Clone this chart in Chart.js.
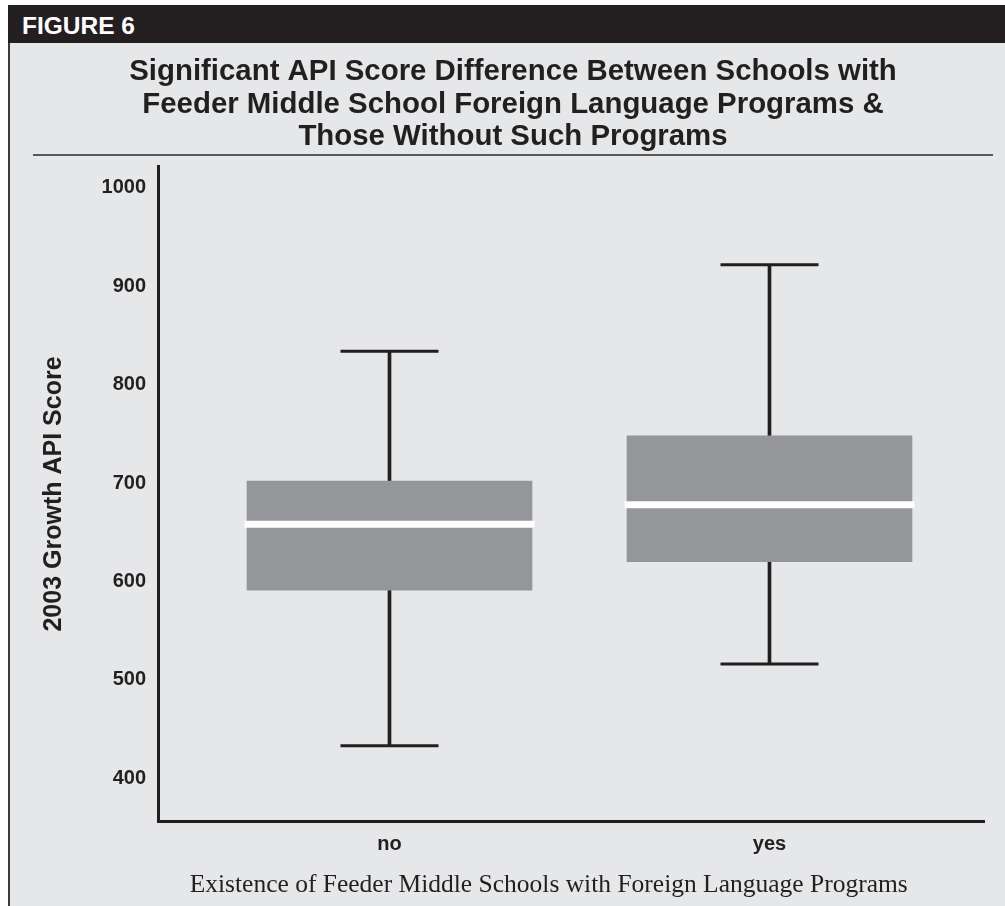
<!DOCTYPE html>
<html>
<head>
<meta charset="utf-8">
<title>Figure 6</title>
<script src="https://cdn.jsdelivr.net/npm/chart.js@4.4.1/dist/chart.umd.min.js"></script>
<style>
  html, body { margin: 0; padding: 0; background: #fff; }
  body { width: 1005px; height: 906px; position: relative; overflow: hidden; font-family: "Liberation Sans", Arial, sans-serif; }
  .frame { position: absolute; left: 8px; top: 5px; width: 997px; height: 901px; background: #e6e7e9; border-left: 2px solid #3b3b3d; box-sizing: border-box; }
  .header { position: absolute; left: 8px; top: 5px; width: 997px; height: 38px; background: #231f20; color: #fff; font-weight: bold; font-size: 24.5px; line-height: 41px; padding-left: 14px; box-sizing: border-box; }
  .rule { position: absolute; left: 33px; top: 154px; width: 960px; height: 2px; background: #58595b; }
  .chart-box { position: absolute; left: 0; top: 0; width: 1005px; height: 906px; }
</style>
</head>
<body>
<div class="frame"></div>
<div class="header">FIGURE 6</div>
<div class="rule"></div>
<div class="chart-box"><canvas id="boxplot"></canvas></div>

<script>
// box plot values
const categories = ['no', 'yes'];
const whiskerLow = [433, 516];
const q1 = [591, 620];
const median = [658, 678];
const q3 = [702, 748];
const whiskerHigh = [834, 922];
const yTicks = [400, 500, 600, 700, 800, 900, 1000];

const titleLines = [
    'Significant API Score Difference Between Schools with',
    'Feeder Middle School Foreign Language Programs &',
    'Those Without Such Programs'
];
const yTitle = '2003 Growth API Score';
const xTitle = 'Existence of Feeder Middle Schools with Foreign Language Programs';

const ink = '#231f20';

function drawBoxplot() {
    Chart.defaults.font.family = '"Liberation Sans", Arial, sans-serif';
    Chart.defaults.color = ink;

    let stems = categories.map((c, i) => ({ x: i, y: [whiskerLow[i], whiskerHigh[i]] }));
    let boxes = categories.map((c, i) => ({ x: i, y: [q1[i], q3[i]] }));
    let caps = [];
    categories.forEach((c, i) => {
        caps.push({ x: i, y: whiskerLow[i] });
        caps.push({ x: i, y: whiskerHigh[i] });
    });
    let medians = categories.map((c, i) => ({ x: i, y: median[i] }));

    let ctx = document.getElementById('boxplot');
    let chart = new Chart(ctx, {
        type: 'bar',
        data: {
            datasets: [
                {
                    type: 'scatter',
                    data: medians,
                    pointStyle: 'line',
                    pointRadius: 145,
                    borderWidth: 7,
                    borderColor: '#ffffff',
                    backgroundColor: '#ffffff',
                    order: 0
                },
                {
                    type: 'bar',
                    data: boxes,
                    grouped: false,
                    barThickness: 285,
                    backgroundColor: '#959699',
                    borderWidth: 0,
                    order: 1
                },
                {
                    type: 'scatter',
                    data: caps,
                    pointStyle: 'line',
                    pointRadius: 49,
                    borderWidth: 3,
                    borderColor: ink,
                    backgroundColor: ink,
                    order: 2
                },
                {
                    type: 'bar',
                    data: stems,
                    grouped: false,
                    barThickness: 3,
                    backgroundColor: ink,
                    borderWidth: 0,
                    order: 3
                }
            ]
        },
        options: {
            responsive: true,
            maintainAspectRatio: false,
            animation: false,
            events: [],
            layout: {
                // the wide "line" points must not push the plot area inwards
                autoPadding: false,
                padding: { top: 56, left: 42, right: 21, bottom: 5.7 }
            },
            plugins: {
                legend: { display: false },
                tooltip: { enabled: false },
                title: {
                    display: true,
                    text: titleLines,
                    color: ink,
                    font: { size: 29.4, weight: 'bold', lineHeight: 1.105 },
                    padding: { top: 0, bottom: 13.5 }
                }
            },
            scales: {
                x: {
                    type: 'linear',
                    offset: false,
                    min: -0.6092,
                    max: 1.5645,
                    grid: { display: false, drawTicks: false },
                    border: { display: true, color: ink, width: 3 },
                    afterBuildTicks: (scale) => {
                        scale.ticks = categories.map((c, i) => ({ value: i }));
                    },
                    ticks: {
                        padding: 11,
                        font: { size: 20, weight: 'bold', lineHeight: 1.2 },
                        callback: (v) => categories[v]
                    },
                    title: {
                        display: true,
                        // trailing spaces nudge the centred title left, like the original
                        text: xTitle + '\u00a0\u00a0\u00a0\u00a0\u00a0\u00a0\u00a0',
                        color: ink,
                        font: { family: '"Liberation Serif", "Times New Roman", serif', size: 25.5, weight: 'normal', lineHeight: 1.2 },
                        padding: { top: 2.7, bottom: 0 }
                    }
                },
                y: {
                    min: 356.4,
                    max: 1021.3,
                    grid: { display: false, drawTicks: false },
                    border: { display: true, color: ink, width: 3 },
                    afterBuildTicks: (scale) => {
                        scale.ticks = yTicks.map((v) => ({ value: v }));
                    },
                    afterFit: (scale) => {
                        scale.width = 116;
                    },
                    ticks: {
                        padding: 12,
                        font: { size: 20, weight: 'bold' },
                        callback: (v) => String(v)
                    },
                    title: {
                        display: true,
                        text: yTitle,
                        color: ink,
                        font: { size: 25, weight: 'bold', lineHeight: 1 },
                        padding: { top: 0, bottom: 0 }
                    }
                }
            }
        }
    });

    console.log(chart.chartArea);
}

drawBoxplot();
</script>
</body>
</html>
